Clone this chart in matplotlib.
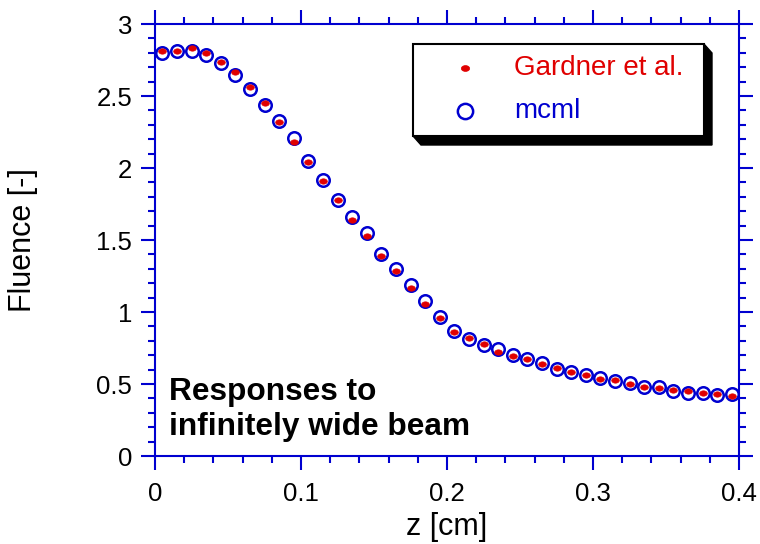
import numpy as np
import matplotlib
matplotlib.use("Agg")
import matplotlib.pyplot as plt
from matplotlib.path import Path
from matplotlib.patches import Rectangle, Polygon
from matplotlib.ticker import MultipleLocator
import matplotlib.transforms as mtransforms

plt.rcParams['font.family'] = ['Liberation Sans', 'DejaVu Sans']

# depth grid (cm)
z = [0.005, 0.015, 0.025, 0.035, 0.045, 0.055, 0.065, 0.075, 0.085, 0.095,
     0.105, 0.115, 0.125, 0.135, 0.145, 0.155, 0.165, 0.175, 0.185, 0.195,
     0.205, 0.215, 0.225, 0.235, 0.245, 0.255, 0.265, 0.275, 0.285, 0.295,
     0.305, 0.315, 0.325, 0.335, 0.345, 0.355, 0.365, 0.375, 0.385, 0.395]

# fluence from mcml
mcml = [2.80, 2.815, 2.815, 2.785, 2.73, 2.645, 2.55, 2.44, 2.325, 2.205,
        2.05, 1.92, 1.78, 1.66, 1.55, 1.405, 1.30, 1.19, 1.075, 0.965,
        0.87, 0.81, 0.77, 0.74, 0.70, 0.675, 0.645, 0.605, 0.585, 0.56,
        0.54, 0.52, 0.505, 0.477, 0.477, 0.454, 0.435, 0.435, 0.424, 0.428]

# fluence from Gardner et al.
gardner = [2.81, 2.81, 2.83, 2.80, 2.735, 2.67, 2.56, 2.45, 2.32, 2.18,
           2.04, 1.91, 1.78, 1.64, 1.53, 1.39, 1.285, 1.17, 1.056, 0.955,
           0.86, 0.822, 0.778, 0.72, 0.697, 0.674, 0.639, 0.613, 0.586, 0.562,
           0.535, 0.528, 0.50, 0.477, 0.47, 0.458, 0.451, 0.435, 0.428, 0.419]

blue = '#0000d0'
red = '#e00000'

# flattened dot for the Gardner points
ell = Path.unit_circle().transformed(mtransforms.Affine2D().scale(1.0, 0.7))

fig = plt.figure(figsize=(7.6, 5.44), dpi=100)
ax = fig.add_axes([155/760, 1 - 456/544, 584/760, 432/544])

ax.plot(z, mcml, linestyle='none', marker='o', ms=9, mfc='white', mec=blue, mew=1.8, zorder=3)
ax.plot(z, gardner, linestyle='none', marker=ell, ms=5.5, mfc=red, mec=red, mew=0.5, zorder=4)

ax.set_xlim(0, 0.4)
ax.set_ylim(0, 3)
ax.xaxis.set_major_locator(MultipleLocator(0.1))
ax.xaxis.set_minor_locator(MultipleLocator(0.02))
ax.yaxis.set_major_locator(MultipleLocator(0.5))
ax.yaxis.set_minor_locator(MultipleLocator(0.1))
ax.xaxis.set_major_formatter(plt.FuncFormatter(lambda v, p: '%g' % round(v, 3)))
ax.yaxis.set_major_formatter(plt.FuncFormatter(lambda v, p: '%g' % round(v, 3)))

for s in ax.spines.values():
    s.set_color(blue)
    s.set_linewidth(1.5)
ax.tick_params(which='both', direction='out', top=True, right=True,
               color=blue, width=1.5, labelsize=18.5, labelcolor='black')
ax.tick_params(which='major', length=10)
ax.tick_params(which='minor', length=5)
ax.tick_params(axis='x', which='major', pad=9)
ax.tick_params(axis='y', which='major', pad=6.5)

ax.set_xlabel('z [cm]', fontsize=22, va='center')
ax.set_ylabel('Fluence [-]', fontsize=22, va='center')
ax.xaxis.set_label_coords(0.5, -0.165)
ax.yaxis.set_label_coords(-0.226, 0.5)

ax.text(0.024, 0.130, 'Responses to', transform=ax.transAxes, fontsize=22.8,
        fontweight='bold', va='baseline', ha='left')
ax.text(0.024, 0.049, 'infinitely wide beam', transform=ax.transAxes, fontsize=22.8,
        fontweight='bold', va='baseline', ha='left')

# legend box with a solid drop shadow
L, R = (413 - 155) / 584, (704 - 155) / 584
T, B = (456 - 44) / 432, (456 - 136) / 432
dx, dy = 8 / 584, 9 / 432
shadow = Polygon([(L, B), (L + dx, B - dy), (R + dx, B - dy), (R + dx, T - dy), (R, T)],
                 closed=True, transform=ax.transAxes, facecolor='black',
                 edgecolor='black', zorder=5)
ax.add_patch(shadow)
box = Rectangle((L, B), R - L, T - B, transform=ax.transAxes, facecolor='white',
                edgecolor='black', linewidth=1.5, zorder=6)
ax.add_patch(box)

mx = (465 - 155) / 584
tx = (514 - 155) / 584
y1 = (456 - 68) / 432
y2 = (456 - 111) / 432
ax.plot([mx], [y1], linestyle='none', marker=ell, ms=6, mfc=red, mec=red, mew=0.5,
        transform=ax.transAxes, zorder=7, clip_on=False)
ax.plot([mx], [y2], linestyle='none', marker='o', ms=11, mfc='white', mec=blue, mew=1.8,
        transform=ax.transAxes, zorder=7, clip_on=False)
ax.text(tx, y1, 'Gardner et al.', transform=ax.transAxes, color=red, fontsize=20,
        va='center', ha='left', zorder=7)
ax.text(tx, y2, 'mcml', transform=ax.transAxes, color=blue, fontsize=20,
        va='center', ha='left', zorder=7)

fig.savefig('out.png', dpi=100)
